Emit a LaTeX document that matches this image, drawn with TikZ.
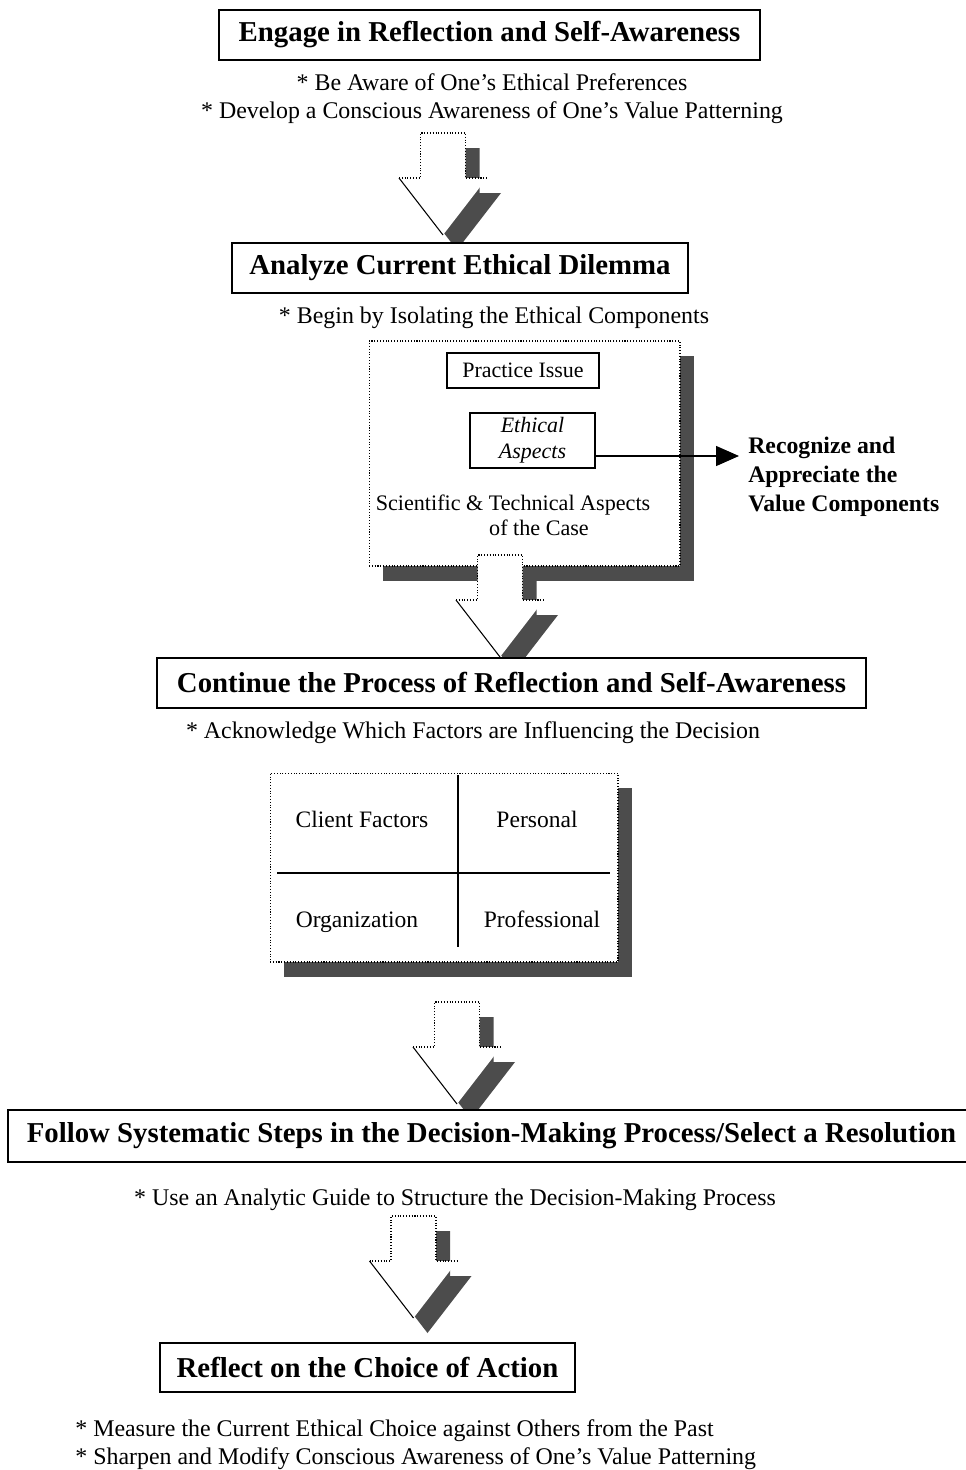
\documentclass[tikz,border=0pt]{standalone}
\usepackage{fontspec}
\setmainfont{Liberation Serif}
\usetikzlibrary{arrows.meta, shadows}
\tikzset{
	titlebox/.style ={rectangle, draw=black, line width=1.1pt, fill=white, inner sep=0pt, font=\fontsize{16.4}{19}\selectfont\bfseries},
	bullet/.style   ={align=center, inner sep=0pt, font=\fontsize{13.6}{16}\selectfont},
	smallbox/.style ={rectangle, draw=black, line width=1pt, fill=white, align=center, inner sep=0pt, font=\fontsize{12.5}{14.8}\selectfont},
	cell/.style     ={inner sep=0pt, text height=1.6ex, text depth=0.3ex, font=\fontsize{13.4}{15.9}\selectfont},
	shadowfill/.style={fill=black!70},
	dotline/.style  ={densely dotted, line width=0.6pt},
	dotbox/.style   ={rectangle, draw=black, densely dotted, line width=0.6pt, fill=white, inner sep=0pt,
		drop shadow={shadow xshift=0.28cm, shadow yshift=-0.3cm, fill=black!70, opacity=1}},
	flowarrow/.style={-{Triangle[length=0.46cm, width=0.4cm]}, line width=0.8pt},
}
% hollow block arrow with a drop shadow: #1 = centre x, #2 = top y
\newcommand{\blkArrow}[2]{%
	\fill[shadowfill, shift={(14,15)}] ({#1-22.5},#2) -- ({#1+22.5},#2) -- ({#1+22.5},{#2+45}) -- ({#1+44},{#2+45})
		-- (#1,{#2+102}) -- ({#1-44},{#2+45}) -- ({#1-22.5},{#2+45}) -- cycle;
	\fill[white] ({#1-22.5},#2) -- ({#1+22.5},#2) -- ({#1+22.5},{#2+45}) -- ({#1+44},{#2+45})
		-- (#1,{#2+102}) -- ({#1-44},{#2+45}) -- ({#1-22.5},{#2+45}) -- cycle;
	\draw[dotline] ({#1-44},{#2+45}) -- ({#1-22.5},{#2+45}) -- ({#1-22.5},#2) -- ({#1+22.5},#2)
		-- ({#1+22.5},{#2+45}) -- ({#1+44},{#2+45});
	\draw[line width=0.6pt] ({#1-44},{#2+45}) -- (#1,{#2+102});}

\begin{document}
\begin{tikzpicture}[x=0.02cm, y=-0.02cm]
	\useasboundingbox (0,0) rectangle (966,1470);
	% step 1
	\node[titlebox, minimum width=10.82cm, minimum height=1cm] (engage) at (489.5,35) {Engage in Reflection and Self-Awareness};
	\node[bullet] (prefs) at (492,99) {* Be Aware of One's Ethical Preferences\\* Develop a Conscious Awareness of One's Value Patterning};
	\blkArrow{443}{133}
	% step 2
	\node[titlebox, minimum width=9.12cm, minimum height=1cm] (analyze) at (460,268) {Analyze Current Ethical Dilemma};
	\node[bullet] (isolate) at (494,318) {* Begin by Isolating the Ethical Components};
	\node[dotbox, minimum width=6.22cm, minimum height=4.5cm] (compbox) at (524.5,453.5) {};
	\node[smallbox, minimum width=3.04cm, minimum height=0.7cm] (practice) at (523,370.5) {Practice Issue};
	\node[smallbox, minimum width=2.5cm, minimum height=1.1cm, font=\fontsize{12.5}{14.8}\selectfont\itshape] (ethasp) at (532.5,440.5) {Ethical\\Aspects};
	\node[cell, font=\fontsize{12.6}{14.2}\selectfont] (sci) at (513,505) {Scientific \& Technical Aspects};
	\node[cell, font=\fontsize{12.6}{14.2}\selectfont] (case) at (539,530) {of the Case};
	\node[anchor=west, align=left, inner sep=0pt, font=\fontsize{13.5}{16.5}\selectfont\bfseries] (recog) at (748,477) {Recognize and\\Appreciate the\\Value Components};
	\coordinate (valtip) at (739,456);
	\draw[flowarrow] (ethasp.east |- valtip) -- (valtip);
	\blkArrow{500}{555}
	% step 3
	\node[titlebox, minimum width=14.18cm, minimum height=1cm] (continue) at (511.5,683) {Continue the Process of Reflection and Self-Awareness};
	\node[bullet] (acknowledge) at (473,733) {* Acknowledge Which Factors are Influencing the Decision};
	\node[dotbox, minimum width=6.96cm, minimum height=3.78cm] (grid) at (444,867.5) {};
	\draw[line width=1.1pt] (458,775) -- (458,947);
	\draw[line width=1.1pt] (277,873) -- (610,873);
	\node[cell] (client) at (362,822) {Client Factors};
	\node[cell] (personal) at (537,822) {Personal};
	\node[cell] (organization) at (357,922) {Organization};
	\node[cell] (professional) at (542,922) {Professional};
	\blkArrow{457}{1002}
	% step 4
	\node[titlebox, minimum width=19.34cm, minimum height=1.04cm] (follow) at (491.5,1136) {Follow Systematic Steps in the Decision-Making Process/Select a Resolution};
	\node[bullet] (analytic) at (455,1200) {* Use an Analytic Guide to Structure the Decision-Making Process};
	\blkArrow{413.5}{1216}
	% step 5
	\node[titlebox, minimum width=8.3cm, minimum height=0.98cm] (reflect) at (367.5,1367.5) {Reflect on the Choice of Action};
	\node[bullet, align=left, anchor=west] (measure) at (75,1444.5) {* Measure the Current Ethical Choice against Others from the Past\\* Sharpen and Modify Conscious Awareness of One's Value Patterning};
\end{tikzpicture}
\end{document}
